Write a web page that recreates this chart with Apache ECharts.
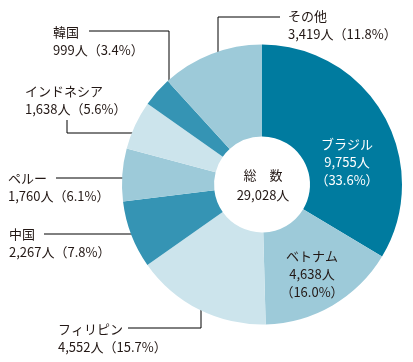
<!DOCTYPE html>
<html><head><meta charset="utf-8">
<script src="https://cdn.jsdelivr.net/npm/echarts@6/dist/echarts.min.js"></script>
<style>html,body{margin:0;padding:0;background:#fff}#c{width:413px;height:362px}</style>
</head><body><div id="c"></div>
<script>
const categories = ['ブラジル','ベトナム','フィリピン','中国','ペルー','インドネシア','韓国','その他'];
const values = [9755, 4638, 4552, 2267, 1760, 1638, 999, 3419];
const valueLabels = ['9,755','4,638','4,552','2,267','1,760','1,638','999','3,419'];
const percents = ['33.6','16.0','15.7','7.8','6.1','5.6','3.4','11.8'];
const totalLabel = '29,028';
const sliceColors = ['#007b9f','#9dcad9','#cce4ec','#3594b4','#9dcad9','#cce4ec','#3594b4','#9dcad9'];

const FONT = '"Noto Sans CJK JP","Noto Sans",sans-serif';
const FS = 13;
const TXT = '#231815';
const LH = 18;

// layout (positions only): y = centre of first text line
const outside = {
  6: {x:53, y:32, line:[[89,31],[169,31],[169,103]]},
  7: {x:288, y:16, line:[[218,71],[218,17],[280,17]]},
  5: {x:25, y:91, line:[[67,120],[67,133],[156,133]]},
  4: {x:8, y:178, line:[[56,178],[146,178]]},
  3: {x:9, y:234, line:[[44,234],[151,234]]},
  2: {x:58, y:329, line:[[128,328],[201,328],[201,286]]}
};
const inside = {
  0: {x:347, y:144, color:'#fff'},
  1: {x:312, y:256, color:TXT}
};

const graphics = [];
Object.keys(outside).forEach(k => {
  const i = +k, o = outside[k];
  graphics.push({type:'text', x:o.x, y:o.y - LH/2, style:{
    text: categories[i] + '\n' + valueLabels[i] + '人（' + percents[i] + '%）',
    font: FS + 'px ' + FONT, fill: TXT, lineHeight: LH, verticalAlign:'top'
  }, silent:true});
  graphics.push({type:'polyline', shape:{points:o.line}, style:{stroke:'#000', lineWidth:1, fill:null}, silent:true});
});
Object.keys(inside).forEach(k => {
  const i = +k, o = inside[k];
  graphics.push({type:'text', x:o.x, y:o.y - LH/2, style:{
    text: categories[i] + '\n' + valueLabels[i] + '人\n（' + percents[i] + '%）',
    font: FS + 'px ' + FONT, fill: o.color, lineHeight: LH, align:'center', verticalAlign:'top'
  }, silent:true, z:10});
});
graphics.push({type:'text', x:263, y:165, style:{
  text:'総　数\n' + totalLabel + '人', font: FS + 'px ' + FONT, fill: TXT, lineHeight: 20, align:'center', verticalAlign:'top'
}, silent:true, z:10});

const chart = echarts.init(document.getElementById('c'), null, {renderer:'canvas'});
chart.setOption({
  animation:false,
  series:[{
    type:'pie', center:[262,184.5], radius:[48,140], startAngle:90, clockwise:true,
    label:{show:false}, labelLine:{show:false}, silent:true,
    itemStyle:{borderWidth:0},
    data: categories.map((c,i)=>({name:c, value:values[i], itemStyle:{color:sliceColors[i]}}))
  }],
  graphic: graphics
});
</script></body></html>
